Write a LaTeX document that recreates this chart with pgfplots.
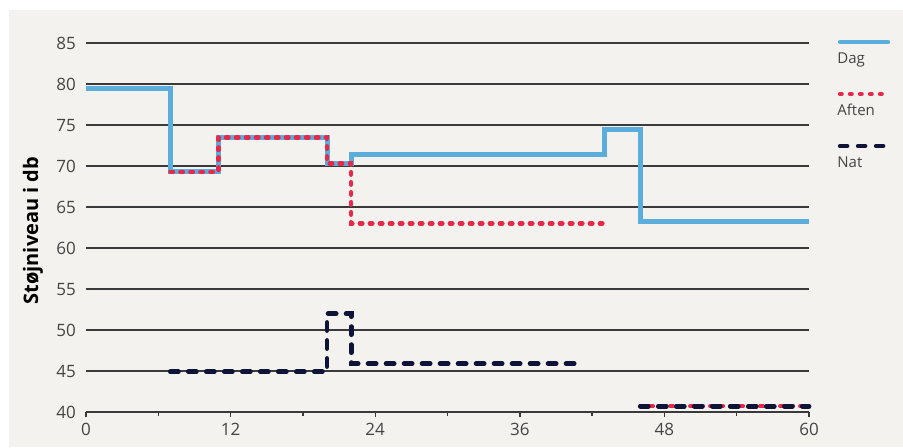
\documentclass[border=0pt]{standalone}
\usepackage{pgfplots}
\pgfplotsset{compat=1.18}
\usepackage{fontspec}
\setmainfont{Open Sans}
\definecolor{dag}{HTML}{5BAEDC}
\definecolor{aften}{HTML}{E8284A}
\definecolor{nat}{HTML}{0E1438}
\definecolor{bg}{HTML}{F3F2EF}
\definecolor{gridc}{HTML}{3A3A3A}
\definecolor{txt}{HTML}{444444}
\begin{document}
\begin{tikzpicture}[x=1pt,y=1pt]
  % background, 1px = 0.5pt, axis origin at pixel (86,412)
  \fill[white] (-43,-17.5) rectangle (408.5,206);
  \fill[bg] (-38.5,-17.5) rectangle (408.5,201);
  \useasboundingbox (-43,-17.5) rectangle (408.5,206);
  \begin{axis}[
    at={(0,0)}, anchor=origin,
    scale only axis,
    width=361.5pt, height=184.5pt,
    xmin=0, xmax=60, ymin=40, ymax=85,
    xtick={0,12,24,36,48,60},
    minor xtick={6,18,30,42,54},
    ytick={40,45,...,85},
    xtick pos=bottom,
    tick align=outside,
    major tick length=2.5pt,
    minor tick length=2pt,
    xtick style={gridc, line width=0.7pt},
    minor tick style={gridc, line width=0.7pt},
    ytick style={draw=none},
    separate axis lines,
    axis x line*=bottom,
    x axis line style={gridc, line width=0.8pt},
    y axis line style={draw=none},
    ymajorgrids=true,
    grid style={gridc, line width=0.75pt},
    ticklabel style={font=\fontsize{8.5}{10}\selectfont, text=txt},
    /pgf/number format/assume math mode=true,
    yticklabel style={xshift=1pt},
    xticklabel style={yshift=0.5pt},
    ylabel={\textbf{Støjniveau i db}},
    ylabel style={font=\fontsize{5.9}{7}\selectfont, text=black},
    every axis y label/.style={at={(-26.5pt,0.5*184.5pt-1.5pt)}, anchor=center, rotate=90},
    clip=false,
  ]
  \addplot[dag, line width=2.5pt, line join=miter, const plot]
    coordinates {(0,79.5) (7,69.3) (11,73.5) (20,70.3) (22,71.4) (43,74.4) (46,63.2) (60,63.2)};
  \addplot[aften, line width=2.2pt, line cap=round, dash pattern=on 1.3pt off 3.7pt, const plot]
    coordinates {(7,69.3) (11,73.5) (20,70.3) (22,63.0) (43,63.0)};
  \addplot[aften, line width=2.2pt, line cap=round, dash pattern=on 1.3pt off 3.7pt]
    coordinates {(46,40.7) (60,40.7)};
  \addplot[nat, line width=2.4pt, line cap=round, dash pattern=on 4pt off 5pt, const plot]
    coordinates {(7,44.9) (20,52.0) (22,45.9) (41.2,45.9)};
  \addplot[nat, line width=2.4pt, line cap=round, dash pattern=on 4pt off 5pt]
    coordinates {(46,40.7) (60,40.7)};
  \end{axis}
  % legend
  \begin{scope}[font=\fontsize{7.5}{9}\selectfont, text=txt]
    \draw[dag, line width=2.2pt, line cap=round] (377,185) -- (401,185);
    \node[anchor=north west, inner sep=0pt] at (375.5,180) {Dag};
    \draw[aften, line width=2.2pt, line cap=round, dash pattern=on 0.8pt off 4.2pt] (377,159) -- (401,159);
    \node[anchor=north west, inner sep=0pt] at (375.5,154) {Aften};
    \draw[nat, line width=2.2pt, line cap=round, dash pattern=on 3.6pt off 5.4pt] (377,133) -- (401,133);
    \node[anchor=north west, inner sep=0pt] at (375.5,128) {Nat};
  \end{scope}
\end{tikzpicture}
\end{document}
